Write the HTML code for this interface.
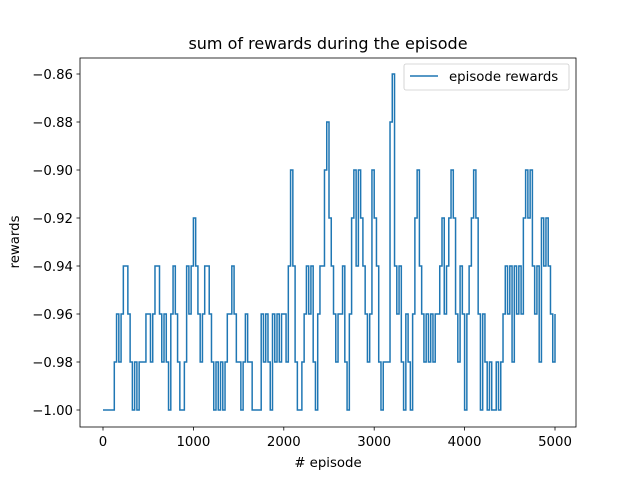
<!DOCTYPE html>
<html><head><meta charset="utf-8"><style>
body{margin:0;background:#fff;}
svg text{font-family:"DejaVu Sans","Liberation Sans",sans-serif;font-size:13.3px;fill:#000;}
</style></head><body>
<svg id="chart" width="640" height="480">
<rect width="640" height="480" fill="#fff"/>
<text x="328" y="49" text-anchor="middle" style="font-size:16px">sum of rewards during the episode</text>
<g id="plot"></g>
<rect x="80" y="58" width="496" height="369" fill="none" stroke="#000" stroke-width="0.8"/>
<g id="xt"></g><g id="yt"></g>
<text x="328" y="467" text-anchor="middle"># episode</text>
<text transform="translate(19,242) rotate(-90)" text-anchor="middle">rewards</text>
<g>
<rect x="404" y="64" width="165" height="26" rx="2" fill="#fff" stroke="#ccc" stroke-width="0.8"/>
<line x1="410" y1="76" x2="438" y2="76" stroke="#1f77b4" stroke-width="1.5"/>
<text x="449" y="81">episode rewards</text>
</g>
</svg>
<script>
const episodes=[];for(let e=0;e<=5000;e+=25)episodes.push(e);
const rewards=[-1,-1,-1,-1,-1,-0.98,-0.96,-0.98,-0.96,-0.94,-0.94,-0.96,-0.98,-1,-0.98,-1,-0.98,-0.98,-0.98,-0.96,-0.96,-0.98,-0.96,-0.94,-0.94,-0.96,-0.98,-0.96,-0.98,-1,-0.96,-0.94,-0.96,-0.98,-1,-1,-0.98,-0.94,-0.96,-0.94,-0.92,-0.94,-0.96,-0.98,-0.96,-0.94,-0.94,-0.96,-0.98,-1,-0.98,-1,-0.98,-1,-0.98,-0.96,-0.96,-0.94,-0.96,-0.98,-0.98,-1,-0.98,-0.96,-0.98,-0.98,-1,-1,-1,-1,-0.96,-0.98,-0.96,-0.98,-1,-0.96,-0.98,-0.96,-0.98,-0.96,-0.96,-0.98,-0.94,-0.90,-0.94,-0.98,-1,-1,-0.98,-0.96,-0.94,-0.96,-0.94,-0.98,-1,-0.96,-0.94,-0.94,-0.90,-0.88,-0.92,-0.94,-0.96,-0.98,-0.96,-0.96,-0.94,-0.98,-1,-0.96,-0.92,-0.90,-0.94,-0.90,-0.92,-0.94,-0.96,-0.98,-0.96,-0.90,-0.92,-0.94,-0.98,-1,-0.98,-0.98,-0.98,-0.88,-0.86,-0.94,-0.96,-0.94,-0.98,-1,-0.96,-0.98,-1,-0.96,-0.92,-0.90,-0.94,-0.96,-0.98,-0.96,-0.98,-0.96,-0.98,-0.96,-0.96,-0.94,-0.92,-0.96,-0.94,-0.92,-0.90,-0.92,-0.96,-0.98,-0.94,-0.96,-1,-0.96,-0.94,-0.92,-0.90,-0.92,-0.96,-1,-0.96,-0.98,-1,-0.98,-1,-1,-0.98,-1,-0.98,-0.96,-0.94,-0.96,-0.94,-0.98,-0.94,-0.96,-0.94,-0.96,-0.92,-0.90,-0.92,-0.90,-0.94,-0.96,-0.94,-0.98,-0.92,-0.94,-0.92,-0.94,-0.96,-0.98,-0.96];
const xTicks=[0,1000,2000,3000,4000,5000];
const yTicks=[-1.00,-0.98,-0.96,-0.94,-0.92,-0.90,-0.88,-0.86];
const X=v=>103+v*(555-103)/5000;
const Y=v=>410+(v+1)*(74-410)/0.14;
const NS='http://www.w3.org/2000/svg';
let d='M'+X(episodes[0])+' '+Y(rewards[0]);
for(let i=1;i<rewards.length;i++){d+=' H'+X(episodes[i])+' V'+Y(rewards[i]);}
const p=document.createElementNS(NS,'path');
p.setAttribute('d',d);p.setAttribute('fill','none');p.setAttribute('stroke','#1f77b4');p.setAttribute('stroke-width','1.5');


document.getElementById('plot').appendChild(p);
xTicks.forEach(t=>{
 const l=document.createElementNS(NS,'line');l.setAttribute('x1',X(t));l.setAttribute('x2',X(t));l.setAttribute('y1',427);l.setAttribute('y2',430.5);l.setAttribute('stroke','#000');l.setAttribute('stroke-width','0.8');
 
 
 const tx=document.createElementNS(NS,'text');tx.setAttribute('x',X(t));tx.setAttribute('y',446);tx.setAttribute('text-anchor','middle');tx.textContent=t;
 
 
 document.getElementById('xt').append(l,tx);
});
yTicks.forEach(t=>{
 const l=document.createElementNS(NS,'line');l.setAttribute('x1',76.5);l.setAttribute('x2',80);l.setAttribute('y1',Y(t));l.setAttribute('y2',Y(t));l.setAttribute('stroke','#000');l.setAttribute('stroke-width','0.8');
 
 
 const tx=document.createElementNS(NS,'text');tx.setAttribute('x',73);tx.setAttribute('y',Y(t)+5);tx.setAttribute('text-anchor','end');tx.textContent='\u2212'+Math.abs(t).toFixed(2);
 
 
 document.getElementById('yt').append(l,tx);
});
</script>
</body></html>
